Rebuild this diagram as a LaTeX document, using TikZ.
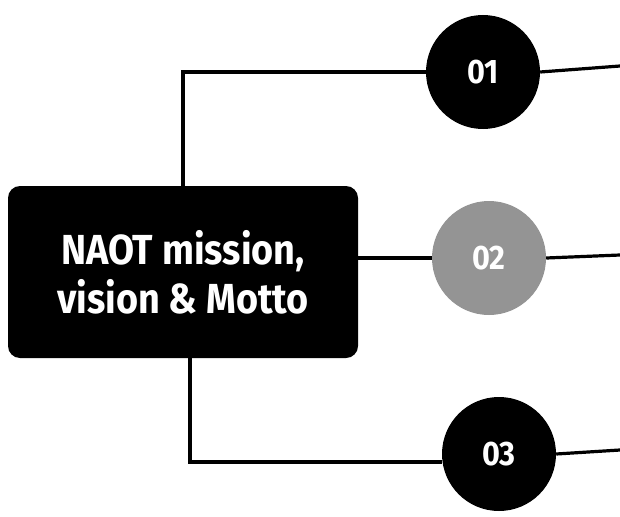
\documentclass[tikz,border=0pt]{standalone}
\usepackage{fontspec}
\usepackage{graphicx}
\setmainfont{Fira Sans}
\begin{document}
\begin{tikzpicture}[x=1pt,y=-1pt,
  conn/.style={line width=3.2pt,black},
  numcirc/.style={circle,minimum size=114pt,inner sep=0pt,font=\bfseries\fontsize{34}{34}\selectfont,text=white},
  mainbox/.style={rounded corners=12pt,fill=black,text=white,minimum width=350pt,minimum height=172pt,align=center,inner sep=0pt,font=\bfseries\fontsize{42}{49}\selectfont}]
\useasboundingbox (0,0) rectangle (620,516);
\node[mainbox] (box) at (183,272) {\scalebox{0.9}[1]{NAOT mission,}\\[0pt]\scalebox{0.9}[1]{vision \& Motto}};
\node[numcirc,fill=black] (c1) at (483,72) {\scalebox{0.9}[1]{01}};
\node[numcirc,fill=black!42] (c2) at (489,258) {\scalebox{0.9}[1]{02}};
\node[numcirc,fill=black] (c3) at (499,454) {\scalebox{0.9}[1]{03}};
\coordinate (tl) at (183,72);
\coordinate (bl) at (190,462);
\coordinate (r1) at (620,66);
\coordinate (r2) at (620,255);
\coordinate (r3) at (620,450);
\draw[conn] (box.north -| tl) -- (tl) -- (c1.west |- tl);
\draw[conn] (box.south -| bl) -- (bl) -- (c3.west |- bl);
\draw[conn] (box.east |- c2) -- (c2.west);
\draw[conn] (c1.east) -- (r1);
\draw[conn] (c2.east) -- (r2);
\draw[conn] (c3.east) -- (r3);
\end{tikzpicture}
\end{document}
